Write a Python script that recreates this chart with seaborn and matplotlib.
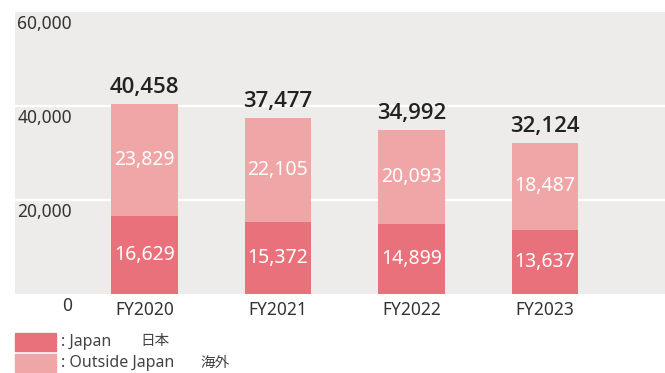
import matplotlib
matplotlib.use("Agg")
import matplotlib.pyplot as plt
from matplotlib.patches import Rectangle
import seaborn as sns
import pandas as pd

years = ["FY2020", "FY2021", "FY2022", "FY2023"]
japan = [16629, 15372, 14899, 13637]
outside = [23829, 22105, 20093, 18487]
totals = [40458, 37477, 34992, 32124]
y_ticks = [0, 20000, 40000, 60000]

c_japan = "#E8717B"
c_outside = "#F0A6A6"
c_bg = "#EEECEA"
c_text = "#333333"

sns.set_style("white")
plt.rcParams["font.family"] = ["Noto Sans", "Noto Sans CJK JP", "DejaVu Sans"]

df = pd.DataFrame({"year": years, "japan": japan, "outside": outside, "total": totals})

fig = plt.figure(figsize=(6.65, 3.73), dpi=100)
ax = fig.add_axes([15 / 665, 79 / 373, 650 / 665, 282 / 373])
ax.set_facecolor(c_bg)

# stacked bars: full total in the lighter colour, Japan share on top of it
sns.barplot(data=df, x="year", y="total", color=c_outside, saturation=1,
            width=0.5, ax=ax, zorder=3, linewidth=0)
sns.barplot(data=df, x="year", y="japan", color=c_japan, saturation=1,
            width=0.5, ax=ax, zorder=4, linewidth=0)

ax.set_ylim(0, 60000)
ax.set_xlim(-0.97, 3.9)
for v in y_ticks[1:-1]:
    ax.axhline(v, color="white", lw=1.6, zorder=1)

for s in ax.spines.values():
    s.set_visible(False)
ax.set_xlabel("")
ax.set_ylabel("")
ax.set_yticks([])
ax.tick_params(axis="x", length=0, pad=5, labelsize=12.5, labelcolor=c_text)

# y-axis labels sit just below their gridlines, inside the plot area
for v in y_ticks:
    ax.annotate(f"{v:,}", xy=(0.0877, v), xycoords=ax.get_yaxis_transform(),
                xytext=(0, -8.6), textcoords="offset points",
                ha="right", va="center", fontsize=12.5, color=c_text,
                annotation_clip=False)

for i in range(len(years)):
    ax.text(i, japan[i] / 2, f"{japan[i]:,}", ha="center", va="center",
            color="white", fontsize=14, zorder=5)
    ax.text(i, japan[i] + outside[i] / 2, f"{outside[i]:,}", ha="center",
            va="center", color="white", fontsize=14, zorder=5)
    ax.annotate(f"{totals[i]:,}", xy=(i, totals[i]), xytext=(0, 4),
                textcoords="offset points", ha="center", va="bottom",
                fontsize=16, fontweight="semibold", family="Open Sans",
                color="#222222", zorder=5)

# legend drawn in figure pixels
W, H = 665, 373
legend_rows = [(c_japan, ": Japan", "日本", 140), (c_outside, ": Outside Japan", "海外", 200)]
for k, (col, label, jp, jx) in enumerate(legend_rows):
    yc = 342 + k * 21
    fig.patches.append(Rectangle((15 / W, 1 - (yc + 9) / H), 41 / W, 18 / H,
                                 transform=fig.transFigure, color=col))
    fig.text(61 / W, 1 - yc / H, label, ha="left", va="center",
             fontsize=11.5, color="#444444")
    fig.text(jx / W, 1 - yc / H, jp, ha="left", va="center",
             fontsize=10.5, color="#444444")

fig.savefig("out.png", dpi=100, facecolor="white")
